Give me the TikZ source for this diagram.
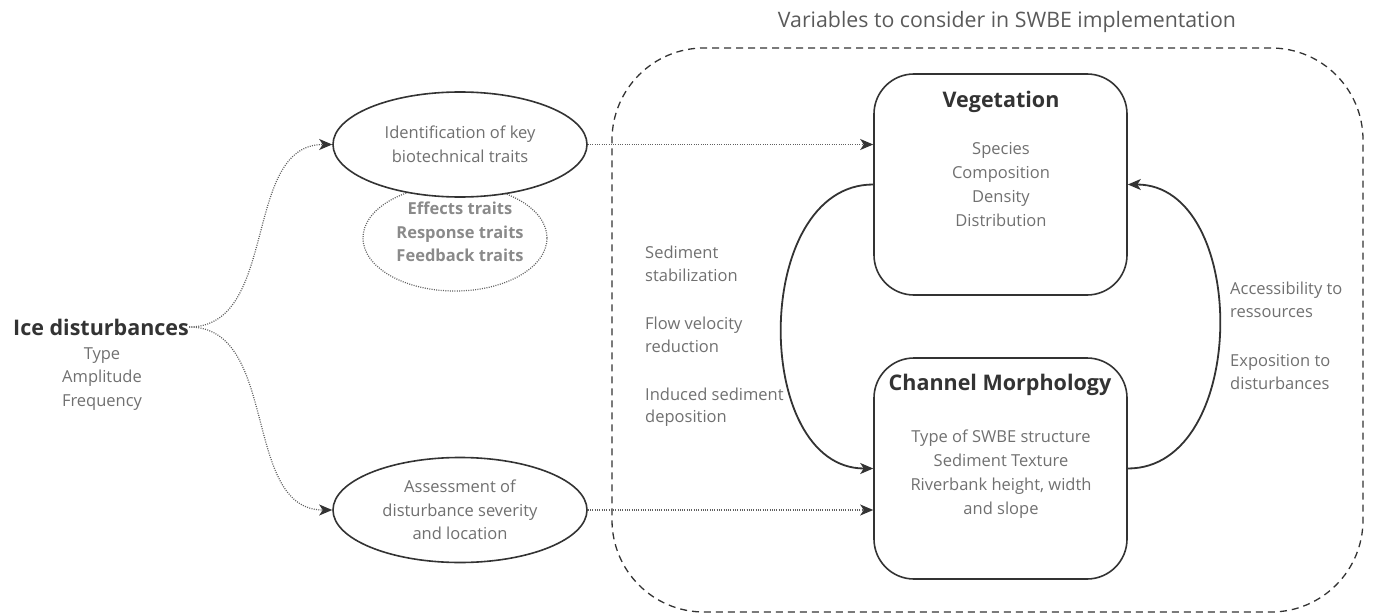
\documentclass[tikz,border=0pt]{standalone}
\usepackage{fontspec}
\setmainfont{Open Sans}
\usetikzlibrary{arrows.meta,shapes.geometric}
\definecolor{ink}{HTML}{333333}
\definecolor{txt}{HTML}{707070}
\definecolor{ttl}{HTML}{5A5A5A}
\definecolor{trt}{HTML}{8A8A8A}
\definecolor{dotc}{HTML}{606060}
\begin{document}
\begin{tikzpicture}[x=1pt,y=-1pt,
  body/.style={font=\fontsize{16.5}{23.5}\selectfont, text=txt, align=center, inner sep=0pt},
  lbl/.style={font=\fontsize{16.5}{22.5}\selectfont, text=txt, align=left, inner sep=0pt, anchor=west},
  head/.style={font=\bfseries\fontsize{21.5}{26}\selectfont, text=ink, inner sep=0pt},
  oval/.style={ellipse, draw=ink, line width=1.6pt, fill=white, minimum width=254pt, minimum height=105pt, inner sep=0pt, font=\fontsize{16.5}{23.5}\selectfont, text=txt, align=center},
  traitoval/.style={ellipse, draw=dotc, line width=1.2pt, dash pattern=on 1pt off 1.3pt, minimum width=184pt, minimum height=106pt, inner sep=0pt},
  traittext/.style={font=\bfseries\fontsize{16.5}{23.5}\selectfont, text=trt, align=center, inner sep=0pt},
  box/.style={draw=ink, line width=1.6pt, rounded corners=40pt, minimum width=253pt, minimum height=221pt, inner sep=0pt},
  frame/.style={draw=ink, line width=1.3pt, dash pattern=on 7pt off 5pt, rounded corners=92pt, minimum width=751pt, minimum height=564pt, inner sep=0pt},
  titletext/.style={font=\fontsize{21.3}{26}\selectfont, text=ttl, inner sep=0pt},
  tip/.style={-{Stealth[length=13pt,width=11pt,inset=3.5pt,color=ink]}},
  dotarrow/.style={draw=dotc, line width=1.2pt, dash pattern=on 1pt off 1.3pt, tip},
  solidarrow/.style={draw=ink, line width=1.8pt, tip}
]
\useasboundingbox (0,0) rectangle (1373,615);

% frame and title
\node[frame] (frame) at (987.5,330) {};
\node[titletext] (title) at (1007,22) {Variables to consider in SWBE implementation};

% left side
\node[head] (ice) at (101,327) {Ice disturbances};
\node[body] (icesub) at (102,379) {Type\\Amplitude\\Frequency};

\node[traitoval] (traits) at (455,238) {};
\node[oval] (ident) at (460,144.5) {Identification of key\\biotechnical traits};
\node[traittext] (traitlist) at (460,232) {Effects traits\\Response traits\\Feedback traits};
\node[oval] (assess) at (460,510) {Assessment of\\disturbance severity\\and location};

% boxes
\node[box] (veg) at (1000.5,184.5) {};
\node[head] (vegtitle) at (1001,102) {Vegetation};
\node[body, font=\fontsize{16.5}{24}\selectfont] (veglist) at (1001,185) {Species\\Composition\\Density\\Distribution};

\node[box] (chan) at (1000.5,468.5) {};
\node[head] (chantitle) at (1000,385) {Channel Morphology};
\node[body, font=\fontsize{16.5}{24}\selectfont] (chanlist) at (1001,474) {Type of SWBE structure\\Sediment Texture\\Riverbank height, width\\and slope};

% labels
\node[lbl] (l1) at (645,264) {Sediment\\stabilization};
\node[lbl] (l2) at (645,335) {Flow velocity\\reduction};
\node[lbl] (l3) at (645,407) {Induced sediment\\deposition};
\node[lbl] (r1) at (1230,300) {Accessibility to\\ressources};
\node[lbl] (r2) at (1230,372) {Exposition to\\disturbances};

% connectors
\draw[dotarrow] (ice.east) to[out=0,in=180] (ident.west);
\draw[dotarrow] (ice.east) to[out=0,in=180] (assess.west);
\draw[dotarrow] (ident.east) -- (ident.east -| veg.west);
\draw[dotarrow] (assess.east) -- (assess.east -| chan.west);
\draw[solidarrow] (veg.west) to[out=180,in=180,looseness=1.1] (chan.west);
\draw[solidarrow] (chan.east) to[out=0,in=0,looseness=1.1] (veg.east);
\end{tikzpicture}
\end{document}
